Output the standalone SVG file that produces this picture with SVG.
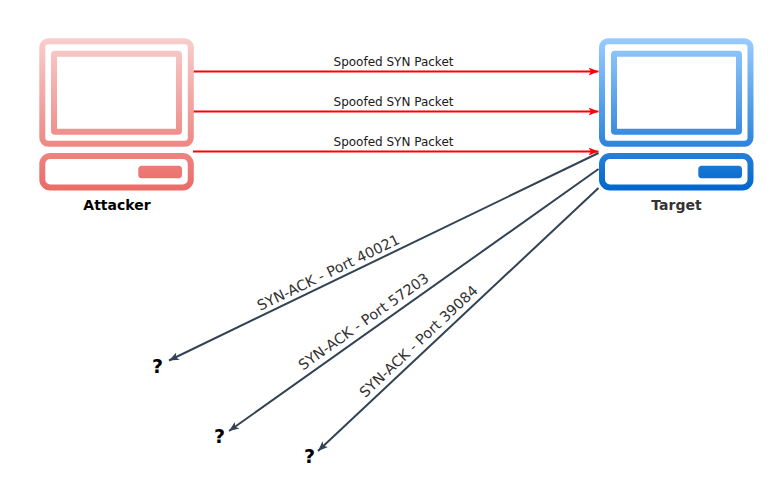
<svg xmlns="http://www.w3.org/2000/svg" width="781" height="498" viewBox="0 0 781 498">
<style>
text{font-family:"DejaVu Sans",Verdana,sans-serif}
.lbl{font-size:12px;fill:#1a1a1a;text-anchor:middle}
.ack{font-size:14.400px;fill:#333;text-anchor:middle}
.name{font-size:14px;font-weight:bold;text-anchor:middle}
.q{font-size:19px;font-weight:bold;fill:#000;text-anchor:middle}
.red{fill:none;stroke:#f00;stroke-width:2;marker-end:url(#ah-red)}
.dark{fill:none;stroke:#314354;stroke-width:2;marker-end:url(#ah-dark)}
.scr{fill:none;stroke-width:6}
</style>
<defs>
<linearGradient id="g-red" gradientUnits="userSpaceOnUse" x1="0" y1="38" x2="0" y2="191"><stop offset="0" stop-color="#f8cecc"/><stop offset="1" stop-color="#ea6b66"/></linearGradient>
<linearGradient id="g-blue" gradientUnits="userSpaceOnUse" x1="0" y1="38" x2="0" y2="191"><stop offset="0" stop-color="#99ccff"/><stop offset="1" stop-color="#0066cc"/></linearGradient>
<marker id="ah-red" markerUnits="userSpaceOnUse" markerWidth="12" markerHeight="10" refX="10" refY="5" orient="auto"><path d="M0 1L10 5L0 9L2.500 5Z" fill="#f00"/></marker>
<marker id="ah-dark" markerUnits="userSpaceOnUse" markerWidth="12" markerHeight="10" refX="10" refY="5" orient="auto"><path d="M0 1L10 5L0 9L2.500 5Z" fill="#314354"/></marker>
</defs>
<g id="connectors">
<path class="red" d="M193 71.500H598.500"/>
<path class="red" d="M193 111.500H598.500"/>
<path class="red" d="M193 151.500H598.500"/>
<path class="dark" d="M598.500 153L169 360.500"/>
<path class="dark" d="M598.500 169L229 431"/>
<path class="dark" d="M598.500 188L318 451"/>
<text class="lbl" x="393.500" y="66">Spoofed SYN Packet</text>
<text class="lbl" x="393.500" y="106">Spoofed SYN Packet</text>
<text class="lbl" x="393.500" y="146">Spoofed SYN Packet</text>
<text class="ack" transform="translate(330.500 277) rotate(-25.800)">SYN-ACK - Port 40021</text>
<text class="ack" transform="translate(366.500 325.500) rotate(-35.400)">SYN-ACK - Port 57203</text>
<text class="ack" transform="translate(422 345) rotate(-43.200)">SYN-ACK - Port 39084</text>
</g>
<g id="attacker">
<rect class="scr" x="42.300" y="41.300" width="148.500" height="102.500" rx="6" stroke="url(#g-red)"/>
<rect class="scr" x="54" y="53.700" width="125" height="78" rx="1" stroke="url(#g-red)"/>
<rect class="scr" x="42.300" y="156" width="148.500" height="31.500" rx="8" stroke="url(#g-red)"/>
<rect x="138.300" y="165.700" width="43.700" height="12.600" rx="3.500" fill="url(#g-red)"/>
<text class="name" x="117" y="210" fill="#000">Attacker</text>
</g>
<g id="target">
<rect class="scr" x="602" y="41.300" width="148.500" height="102.500" rx="6" stroke="url(#g-blue)"/>
<rect class="scr" x="614" y="53.700" width="125" height="78" rx="1" stroke="url(#g-blue)"/>
<rect class="scr" x="602" y="156" width="148.500" height="31.500" rx="8" stroke="url(#g-blue)"/>
<rect x="698.300" y="165.700" width="43.700" height="12.600" rx="3.500" fill="url(#g-blue)"/>
<text class="name" x="676.500" y="210" fill="#333">Target</text>
</g>
<g id="q1"><text class="q" x="157.500" y="373">?</text></g>
<g id="q2"><text class="q" x="219.500" y="443">?</text></g>
<g id="q3"><text class="q" x="309.500" y="463">?</text></g>
</svg>
